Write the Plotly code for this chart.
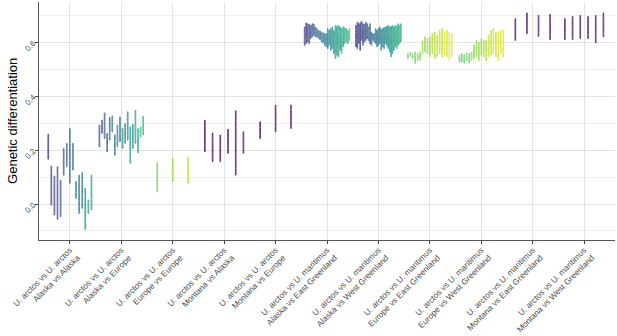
import plotly.graph_objects as go
from plotly.colors import sample_colorscale

# ---------------- data: (low, high) of each pairwise violin ----------------
alaska_alaska = [(0.166, 0.259), (-0.004, 0.141), (-0.041, 0.104), (-0.057, 0.138), (-0.047, 0.089),
                 (0.107, 0.206), (0.138, 0.225), (0.077, 0.280), (0.126, 0.225), (0.021, 0.083),
                 (-0.035, 0.107), (-0.016, 0.117), (-0.094, 0.058), (-0.035, 0.015), (-0.022, 0.107)]
alaska_europe = [(0.212, 0.293), (0.262, 0.311), (0.243, 0.338), (0.194, 0.262), (0.237, 0.321),
                 (0.268, 0.326), (0.181, 0.256), (0.212, 0.293), (0.231, 0.323), (0.206, 0.280),
                 (0.225, 0.299), (0.237, 0.342), (0.151, 0.286), (0.206, 0.296), (0.225, 0.348),
                 (0.190, 0.280), (0.249, 0.286), (0.256, 0.326)]
europe_europe = [(0.046, 0.154), (0.083, 0.169), (0.077, 0.175)]
montana_alaska = [(0.194, 0.311), (0.157, 0.264), (0.157, 0.256), (0.188, 0.277), (0.107, 0.346),
                  (0.188, 0.268)]
montana_europe = [(0.243, 0.305), (0.268, 0.367), (0.280, 0.367)]
alaska_eastgreen = [(0.589, 0.657), (0.595, 0.672), (0.601, 0.669), (0.595, 0.667), (0.614, 0.663),
                    (0.620, 0.669), (0.626, 0.667), (0.620, 0.657), (0.620, 0.651), (0.614, 0.644),
                    (0.610, 0.642), (0.601, 0.638), (0.598, 0.635), (0.589, 0.632), (0.583, 0.632),
                    (0.577, 0.651), (0.589, 0.644), (0.570, 0.651), (0.577, 0.657), (0.558, 0.644),
                    (0.540, 0.663), (0.552, 0.659), (0.546, 0.663), (0.570, 0.657), (0.558, 0.651),
                    (0.583, 0.657), (0.595, 0.654), (0.601, 0.651), (0.595, 0.644), (0.607, 0.651)]
alaska_westgreen = [(0.583, 0.663), (0.577, 0.675), (0.595, 0.669), (0.570, 0.672), (0.607, 0.679),
                    (0.589, 0.669), (0.601, 0.667), (0.607, 0.675), (0.614, 0.669), (0.607, 0.657),
                    (0.595, 0.669), (0.589, 0.638), (0.607, 0.632), (0.601, 0.632), (0.595, 0.651),
                    (0.583, 0.644), (0.589, 0.651), (0.595, 0.657), (0.570, 0.647), (0.583, 0.651),
                    (0.577, 0.654), (0.595, 0.657), (0.589, 0.659), (0.577, 0.663), (0.564, 0.657),
                    (0.546, 0.659), (0.558, 0.663), (0.570, 0.657), (0.583, 0.663), (0.577, 0.659),
                    (0.589, 0.669), (0.595, 0.663), (0.601, 0.669)]
europe_eastgreen = [(0.540, 0.558), (0.548, 0.564), (0.540, 0.558), (0.521, 0.564), (0.533, 0.558),
                    (0.533, 0.564), (0.558, 0.605), (0.564, 0.620), (0.558, 0.614), (0.546, 0.620),
                    (0.558, 0.632), (0.540, 0.638), (0.546, 0.626), (0.558, 0.645), (0.546, 0.651),
                    (0.552, 0.638), (0.546, 0.645), (0.533, 0.638), (0.546, 0.632)]
europe_westgreen = [(0.527, 0.552), (0.527, 0.558), (0.523, 0.554), (0.531, 0.561), (0.523, 0.558),
                    (0.533, 0.564), (0.540, 0.589), (0.546, 0.607), (0.533, 0.601), (0.552, 0.614),
                    (0.546, 0.607), (0.533, 0.607), (0.546, 0.626), (0.552, 0.645), (0.558, 0.651),
                    (0.546, 0.638), (0.533, 0.638), (0.558, 0.645), (0.546, 0.645)]
montana_eastgreen = [(0.607, 0.688), (0.632, 0.709), (0.622, 0.700), (0.610, 0.704)]
montana_westgreen = [(0.610, 0.688), (0.610, 0.696), (0.614, 0.700), (0.614, 0.696), (0.598, 0.700),
                     (0.620, 0.709)]

tick_labels = [
    "U. arctos vs U. arctos<br>Alaska vs Alaska",
    "U. arctos vs U. arctos<br>Alaska vs Europe",
    "U. arctos vs U. arctos<br>Europe vs Europe",
    "U. arctos vs U. arctos<br>Montana vs Alaska",
    "U. arctos vs U. arctos<br>Montana vs Europe",
    "U. arctos vs U. maritimus<br>Alaska vs East Greenland",
    "U. arctos vs U. maritimus<br>Alaska vs West Greenland",
    "U. arctos vs U. maritimus<br>Europe vs East Greenland",
    "U. arctos vs U. maritimus<br>Europe vs West Greenland",
    "U. arctos vs U. maritimus<br>Montana vs East Greenland",
    "U. arctos vs U. maritimus<br>Montana vs West Greenland",
]

groups = [alaska_alaska, alaska_europe, europe_europe, montana_alaska, montana_europe,
          alaska_eastgreen, alaska_westgreen, europe_eastgreen, europe_westgreen,
          montana_eastgreen, montana_westgreen]

# ---------------- style ----------------
color_ranges = [(0.12, 0.55), (0.2, 0.65), (0.78, 0.9), (0.0, 0.02), (0.0, 0.05),
                (0.18, 0.68), (0.15, 0.65), (0.75, 0.97), (0.72, 0.97), (0.02, 0.05), (0.02, 0.05)]
DODGE = 0.9
VWIDTH = 0.013

fig = go.Figure()
for gi, grp in enumerate(groups):
    n = len(grp)
    c0, c1 = color_ranges[gi]
    ts = [c0 + (c1 - c0) * (i / (n - 1) if n > 1 else 0) for i in range(n)]
    cols = sample_colorscale("Viridis", ts)
    for i, (lo, hi) in enumerate(grp):
        xpos = gi + (i - (n - 1) / 2) * DODGE / n
        fig.add_trace(go.Violin(
            x=[xpos, xpos], y=[lo, hi],
            width=VWIDTH, spanmode="hard", bandwidth=(hi - lo),
            points=False, line=dict(color=cols[i], width=1),
            fillcolor="rgba(255,255,255,0)", opacity=0.8,
            showlegend=False, hoverinfo="skip",
        ))

fig.update_layout(
    width=617, height=336,
    margin=dict(l=39, r=2, t=2, b=96, autoexpand=False),
    plot_bgcolor="white", paper_bgcolor="white",
    font=dict(family="Liberation Sans, Arial, sans-serif", color="#4d4d4d", size=8.5),
    violinmode="overlay",
    showlegend=False,
)
fig.update_xaxes(
    range=[-0.6, 10.6], tickmode="array", tickvals=list(range(11)), ticktext=tick_labels,
    tickangle=-45, tickfont=dict(size=8.3, color="#4d4d4d"), ticklabelstandoff=-2,
    showgrid=True, gridcolor="#e3e3e3", gridwidth=1, automargin=False,
    showline=True, linecolor="#555555", linewidth=1.2,
    ticks="outside", ticklen=3, tickcolor="#444444", zeroline=False,
)
fig.update_yaxes(
    range=[-0.1336, 0.7496], tickvals=[0.0, 0.2, 0.4, 0.6], ticktext=["0.0", "0.2", "0.4", "0.6"],
    tickangle=-45, tickfont=dict(size=8, color="#4d4d4d"), automargin=False,
    showgrid=True, gridcolor="#e3e3e3", gridwidth=1,
    minor=dict(tickvals=[-0.1, 0.1, 0.3, 0.5, 0.7], showgrid=True, gridcolor="#f0f0f0", gridwidth=1),
    showline=True, linecolor="#555555", linewidth=1.2,
    ticks="outside", ticklen=3, tickcolor="#444444", zeroline=False,
)
fig.add_annotation(
    text="Genetic differentiation", textangle=-90, showarrow=False,
    xref="paper", yref="paper", x=-0.047, y=0.5, xanchor="center", yanchor="middle",
    font=dict(size=13, color="black", family="Liberation Sans, Arial, sans-serif"),
)

fig.write_html("out.html", config={"displayModeBar": False},
               post_script="document.body.style.margin='0px';")
